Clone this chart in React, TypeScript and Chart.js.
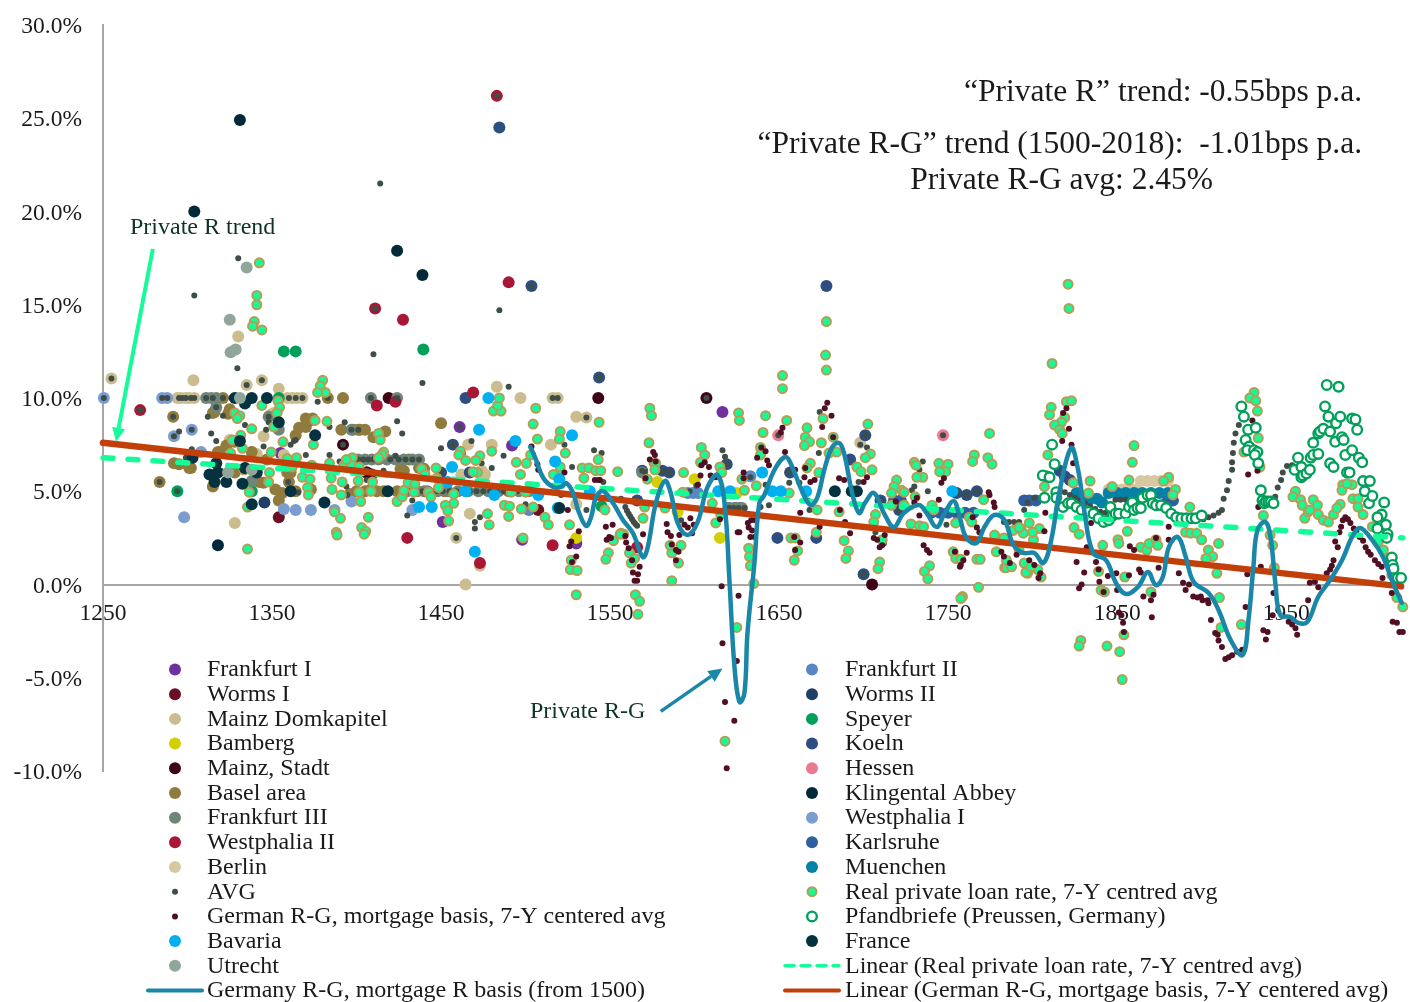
import React, { useEffect, useRef } from "react";
import { Chart, registerables } from "chart.js";

Chart.register(...registerables);

type P = [number, number];

const FONT = '"Liberation Serif", serif';

const yearTicks = { min: 1250, max: 2019 };
const yearLabels = [1250, 1350, 1450, 1550, 1650, 1750, 1850, 1950];
const rateTicks = { min: -10, max: 30, step: 5 };

const frankfurtI: P[] = [[1461,8.45],[1616.5,9.25],[1492,7.45],[1451,3.35],[1498,2.4],[1355,7.05],[1530,2.2]];
const frankfurtII: P[] = [[1633,5.8],[1502,4.0],[1596,4.9],[1599,4.9],[1602,4.9]];
const wormsI: P[] = [[1354,3.6],[1406,6.0],[1409,5.9],[1507.5,4.0]];
const wormsII: P[] = [[1345.5,4.4]];
const mainzDomkapitel: P[] = [[1255,11.05],[1303.5,10.95],[1335,10.7],[1344,10.95],[1354,10.5],[1294,10],[1296,10],[1299,10],[1301,10],[1304,10],[1359,10],[1362,10],[1365,10],[1368,10],[1516,10],[1519,10],[1328,3.3],[1464.5,0],[1473,1.0],[1467,3.8],[1459,2.5],[1497,10],[1483,10.6],[1474,6.1],[1466,7.5],[1480,7.5],[1515,7.5],[1530,9],[1536,8.95],[1345,7.95],[1338,7.1],[1326,9.25],[1330,13.3],[1341,7.0],[1530,4.3],[1698,7.6],[1351,9.2],[1349,9.1],[1325,7.75],[1326,7.65],[1357,6.95],[1462,5.9],[1476,5.9],[1340,6.9]];
const speyer: P[] = [[1357,12.5],[1364,12.5],[1439.5,12.6],[1294,5],[1354,10],[1545,4.2],[1338,5]];
const bamberg: P[] = [[1615,2.5],[1530,2.5],[1600,5.65],[1578,5.5],[1625,4.9],[1590,3.9]];
const koeln: P[] = [[1484.5,24.5],[1503.5,16],[1678,16],[1543.5,11.1],[1464.5,10],[1649,2.5],[1700,0.55],[1701,8],[1672,2.5],[1457,7.5],[1450,6],[1467,6],[1569,6.1],[1581,6.1],[1585,6],[1566,4.5],[1619,6.45],[1692,6.7],[1767,5],[1761,4.8],[1755,4.9],[1710,4.5],[1721,4],[1656.5,6],[1816,6.1],[1819,5.8],[1822,5.6],[1620.5,4.1],[1624,4.1],[1627,4.1]];
const mainzStadt: P[] = [[1543,10],[1607,10],[1705,0],[1419,10],[1392,7.5],[1406,6]];
const hessen: P[] = [[1747,8],[1649.5,8]];
const baselArea: P[] = [[1283.5,5.5],[1295,6.45],[1302,6.25],[1291.5,9],[1321,10],[1383,10],[1392,10],[1401,8.3],[1450,8.65],[1370,8.45],[1374,8.9],[1316,9.25],[1319,7.1],[1315,5.25],[1364,8],[1391,8.3],[1356,4.9],[1354,4.5],[1359,6],[1347,6.7],[1328,6],[1342.5,5.5],[1398,8.3],[1405,8.3],[1412,5],[1416,5],[1400,5],[1405,5],[1360,5.5],[1352,5.1],[1373,5.1],[1397,6.7],[1431,6.7],[1366,8.4],[1370,8.9],[1373,8.8],[1364,5],[1361,6],[1345,5.45],[1323,7.45],[1328,7.65],[1318,7.1],[1338,7.1],[1301,6.25],[1292,6.5],[1402,8.3],[1417,8.2],[1413,7.9],[1410,7.9],[1315,9.2],[1325,9.4],[1324,9.15],[1437,6.25],[1440,6.2],[1426,6.2],[1428,6.1],[1396,4.85],[1408,5.05],[1424,5],[1440,5],[1452,5]];
const klingentalAbbey: P[] = [[1331,24.9],[1304,20],[1424,17.9],[1439,16.6],[1318,2.1]];
const frankfurtIII: P[] = [[1311,10],[1314,10],[1317,10],[1317,9.5],[1348,9],[1354,8.3],[1338,5.55],[1408.5,10],[1424,10],[1397,8.3],[1401,6.7],[1405,6.7],[1409,6.7],[1413,6.7],[1418,6.7],[1423,6.7],[1428,6.7],[1433,6.7],[1437,6.7],[1430,5],[1436,5],[1442,5],[1448,5],[1454,5],[1460,5],[1466,5],[1472,5],[1478,5],[1484,5],[1490,5],[1496,5],[1502,5],[1569,6],[1620,4.1],[1624,4.1],[1628,4.1]];
const westphaliaI: P[] = [[1250.5,10],[1285,10],[1288,10],[1292,7.95],[1302.5,8.3],[1298,3.6],[1308,7.1],[1357,4.05],[1364,4],[1373,4],[1387,4],[1397,4.45],[1433,4]];
const westphaliaII: P[] = [[1483,26.2],[1490,16.2],[1411,14.8],[1427.5,14.2],[1412,9.6],[1423,9.8],[1272,9.35],[1469,10.3],[1430,2.5],[1473,1.15],[1516,2.1],[1566,2]];
const karlsruhe: P[] = [[1740,3.85],[1745,3.85],[1750,3.85],[1755,3.85],[1760,3.85],[1765,3.85],[1795,4.5],[1798,4.5],[1802,4.5],[1880,4.5],[1883,4.5],[1718,4.5],[1722,4.5]];
const berlin: P[] = [[1841,4.5],[1845,5.1],[1849,5.1],[1853,5.1],[1857,5.1],[1861,5.1],[1864,5.55],[1868,5.55],[1872,5.55],[1876,5.55],[1880,5.55]];
const muenchen: P[] = [[1826,4.9],[1830,4.7],[1834,4.6],[1838,4.6],[1841,4.4],[1845,4.9],[1850,4.9],[1855,4.9],[1860,4.9],[1865,4.9],[1870,4.9],[1875,4.9],[1880,4.9]];
const avg: P[] = [[1414,21.5],[1330,17.5],[1304,15.5],[1484.5,14.7],[1410,12.35],[1329.5,11.6],[1439,10.8],[1490,10.6],[1250.5,10],[1255,11.05],[1272,9.35],[1285,10],[1288,10],[1292,7.95],[1302.5,8.3],[1283.5,5.5],[1291.5,9],[1294,5],[1295,10],[1297,10],[1299,10],[1302,10],[1304,10],[1311,10],[1315,10],[1317,9.5],[1321,10],[1326,10],[1335,10.7],[1344,10.95],[1348,9],[1354,10],[1360,10],[1364,10],[1368,10],[1383,10],[1408.5,10],[1424,10],[1397,8.3],[1401,8.3],[1483,26.2],[1503.5,16],[1411,14.8],[1543.5,11.1],[1607,10],[1516,10],[1519,10],[1536,8.95],[1461,8.45],[1457,7.5],[1450,6],[1467,6],[1459,2.5],[1392,7.5],[1619,6.45],[1747,8],[1649.5,8],[1701,8],[1700,0.55],[1672,2.8],[1569,6.1],[1585,6],[1581,6.1],[1566,4.5],
[1377,9.8],[1393,8.7],[1424,8.75],[1427,8.1],[1384,8.45],[1295,8.2],[1314,8.1],[1317,7.7],[1334,8.55],[1345,7.4],[1363,7.7],[1370,6.95],[1390,6.6],[1348,8.7],[1299,6.8],[1312,9],[1450,7.3],[1468,7.7],[1480,6.25],[1470,3.35],[1470,3],[1473,3.6],[1433,4.5],[1430,3.7],[1400,6],[1500,4.3],[1474,6.5],[1463,7.05],[1487,6.9],[1423,6.9],[1411,6.8],[1416,6.1],[1406,6.1],[1406,5.6],[1401,6.7],[1404,6.7],[1407,6.7],[1410,6.7],[1420,6.7],[1425,6.7],[1429,6.7],[1433,6.7],[1437,6.7],[1321,9.05],[1346.5,8.3],[1361,7.5],[1364,7.75],[1384,6.95],[1394,5.25],[1394.5,4.8],[1359.5,5.5],[1365.5,4.95],[1302.5,7.25],
[1431,5],[1435,5],[1439,5],[1443,5],[1447,5],[1451,5],[1455,5],[1459,5],[1463,5],[1467,5],[1471,5],[1475,5],[1479,5],[1483,5],[1487,5],[1491,5],[1495,5],[1499,5],
[1540.5,7.2],[1545,7.05],[1527.5,6.3],[1523,7.5],[1546,5.5],[1536,4],[1521,4.8],[1559,4.15],[1560,3.95],[1561,3.8],[1562,3.65],[1563,3.5],[1564,3.35],[1565,3.25],[1566,3.15],[1556.5,4.6],[1616.5,7.2],[1618,6.85],[1597,5],[1592,3.45],[1601,5.3],[1633,5.75],[1630,4.95],[1639,4.15],[1644,4.25],[1642,5.35],[1620.5,4.1],[1623,4.1],[1626,4.1],[1629.5,4.1],[1570.5,6.05],[1580,6.05],[1674,9.25],[1673.5,7.05],[1655.5,6.05],[1656,5.45],[1662,5.45],[1668,4],[1667,4.5],[1698,7.5],[1702,7.35],[1697,5.5],[1735,6.6],[1733,6.15],[1730,5.25],[1728.5,5.05],[1738,5],[1725.5,4.15],[1707,2.8],[1712,2.2],[1749,3.2],[1755,4.9],[1761,4.8],[1767,5],[1721,4],[1710,4.5],
[1783,3.35],[1786,3.35],[1789,3.35],[1792,3.35],[1795,4],[1797,4.4],[1801,4.65],[1816,5.1],[1819,4.95],[1822,4.8],[1825,4.65],[1828,4.5],[1831,4.35],[1834,4.2],[1837,4.05],[1840,3.9],[1843,3.85],[1846,4.3],[1849,4.55],[1852,4.55],[1855,4.55],[1858,4.4],[1861,4.35],[1898,3.5],[1901,3.5],[1904,3.6],[1907,3.7],[1910,3.85],[1912,4],[1913,4.6],[1915,5.05],[1916,5.55],[1918,6.15],[1918,6.55],[1918.5,7.05],[1919,7.6],[1920,8.1],[1922,8.55],[1943.5,4.7],[1945,5.2],[1947,5.6],[1948,6],[1950.5,6.35],[1953.5,6.4]];
const realPrivateLoanRate: P[] = [[1342.5,17.25],[1341,15.5],[1341,15],[1339.5,14.1],[1338.5,13.85],[1344,13.65],[1380,10.95],[1378.5,10.65],[1381.5,10.3],[1377,10.3],[1344,9.6],[1353.5,9.85],[1354.5,9.5],[1353,9.2],[1328,9.2],[1331,9.05],[1329.5,8.9],[1338,8.35],[1351,8.45],[1375.5,8.8],[1382.5,8.75],[1356.5,7.65],[1331.5,8],[1326.5,7.75],[1413,8.1],[1414,7.75],[1416,7.1],[1415,6.95],[1413,6.8],[1374.5,7.5],[1349.5,7.1],[1332.5,7.3],[1325.5,7.05],[1364.5,6.8],[1359,6.75],[1362,6.3],[1384,6.5],[1397.5,6.8],[1392.5,6.4],[1397,6.4],[1394,6.7],[1401.5,6.3],[1373.5,6.4],[1348.5,6],[1368,5.75],[1372.5,5.65],[1385,5.7],[1401,5.55],[1385.5,5.1],[1391.5,5.5],[1348,5.5],[1371,5.2],[1371.5,4.8],[1391,4.8],[1401.5,4.95],[1402.5,4.45],[1409.5,5.5],[1408.5,5],[1424,4.45],[1427,4.7],[1428,5.05],[1430.5,5.45],[1434.5,5.4],[1434,4.95],[1438.5,6.2],[1440.5,5.9],[1447,6.25],[1447.5,5.7],[1442.5,4.95],[1444,4.7],[1448.5,5.2],[1457.5,4.85],[1457.5,4.35],[1452.5,4.25],[1454,3.95],[1454.5,3.4],[1477.5,3.8],[1478.5,3.2],[1480,7.15],[1473,6.9],[1470.5,6.65],[1464.5,6.65],[1461.5,7.15],[1460.5,6.95],[1471.5,6],[1469,6.05],[1481,9.3],[1485.5,9.3],[1483.5,9.6],[1484.5,10],[1506,9.45],[1504.5,8.6],[1507,7.8],[1494.5,6.55],[1500.5,6.5],[1503,6.95],[1497,5.9],[1491.5,4.95],[1500,4.95],[1487.5,4.25],[1490.5,4.2],[1490,3.65],[1497.5,4.05],[1504.5,4.15],[1498.5,2.5],[1511.5,3.6],[1513.5,3.2],[1407,3.6],[1403,3.05],[1405.5,2.85],[1404.5,2.7],[1390.5,3.55],[1387,3.9],[1388,2.8],[1388.5,2.65],[1335.5,1.9],[1335.5,4.15],[1336.5,4.95],[1333.5,6.15],
[1520.5,8.2],[1520,7.8],[1543.5,8.7],[1523.5,7.05],[1543,6.7],[1534.5,5.7],[1533.5,6.25],[1537.5,6.25],[1541.5,6.1],[1544.5,6.1],[1554.5,6.05],[1520.5,6.05],[1516.5,5.9],[1520.5,6.3],[1573.5,9.45],[1574.5,9.05],[1573,7.6],[1626,9.2],[1626.5,8.8],[1642,9.05],[1640.5,8.15],[1604,7.35],[1606,6.95],[1603.5,6.55],[1576,6.5],[1577,6.5],[1576.5,6.15],[1593.5,6],[1615,6.3],[1616,6],[1628,5.65],[1629.5,5.05],[1636.5,5.3],[1639,7.35],[1639,6.95],[1572,5.65],[1526,3.2],[1547,4],[1549,1.7],[1547.5,1.35],[1527,1.3],[1526.5,0.8],[1530.5,0.75],[1530,-0.55],[1558,2.7],[1556.5,2.75],[1561.5,1.7],[1564.5,1.4],[1562.5,1.15],[1565,-0.55],[1567.5,-0.9],[1566.5,-1.6],[1586.5,0.2],[1586.5,1.7],[1592,2.1],[1585.5,2.1],[1590.5,1.15],[1569.5,3.55],[1552,2.35],[1556,2.7],[1570.5,4.15],[1582.5,4.1],[1612.5,3.3],[1610.5,4.35],[1632,1.95],[1632.5,1.5],[1633,1],[1635,0.05],[1593,4.95],[1615.5,3.75],
[1654.5,8.8],[1666.5,8.4],[1665.5,7.9],[1668,7.65],[1665,7.45],[1675,7.6],[1676,8.9],[1668.5,6.5],[1666.5,6.25],[1673.5,6],[1682,7.9],[1684,7.1],[1679.5,7.05],[1702.5,8.6],[1696,6.3],[1698.5,6.05],[1705,6.15],[1704,7],[1701,6.8],[1656,4.9],[1672.5,4],[1685.5,3.9],[1672,2.8],[1688.5,2.35],[1691,1.8],[1689.5,1.4],[1659,1.3],[1661,1.8],[1657,2.5],[1659.5,2.5],[1707,3.75],[1706,3.35],[1711,2.4],[1709.5,1.2],[1708.5,0.85],[1719.5,5.6],[1722.5,5.05],[1718,5.25],[1716.5,4.9],[1724,4.95],[1716.5,4.25],[1724,4.25],[1730.5,4.7],[1730,6.55],[1731,6.4],[1735,5.75],[1731.5,5.75],[1728,3.25],[1733,3.15],[1735.5,3.1],[1739,1],[1736,0.7],[1738,0.3],[1744.5,6.5],[1750,6.45],[1748.5,6.05],[1745,6.05],[1740.5,4.25],[1741.5,4],[1753,1.75],[1754.5,1.4],[1757.5,1.35],[1765.5,6.95],[1764.5,6.6],[1774.5,8.1],[1773.5,6.8],[1776,6.45],[1771,4.55],[1767,1.35],[1769,1.35],[1768,-0.15],[1758.5,-0.65],[1757.5,-0.75],[1777.5,2.65],[1783,2.5],[1788.5,2.9],[1783.5,0.9],[1784.5,0.9],[1778.5,1.75],[1754.5,3.3],[1762.5,3.6],[1764,3.35],
[1793,3],[1798,3.3],[1800.5,2.4],[1804,3],[1795,1.15],[1797,0.6],[1805,0.4],[1800,2.8],[1811,9.5],[1810,9.1],[1820,9.8],[1823,9.85],[1819,8.95],[1817,8.7],[1813,8.55],[1816,8.3],[1817.5,8.1],[1809,6.95],[1807,5.25],[1824,5.45],[1834,5.55],[1833,4.9],[1824.5,3.05],[1827.5,2.7],[1841.5,2.1],[1850.5,2.4],[1851,2.2],[1856,2.85],[1864,2],[1867.5,1.85],[1869,2.2],[1873,2.4],[1874,2.1],[1857,5.6],[1860,7.45],[1859,6.55],[1847,5.25],[1880.5,5.75],[1877.5,5.55],[1884.5,5.1],[1883,4.8],[1893,4.15],[1890.5,2.8],[1893.5,2.75],[1897,2.75],[1900,2.4],[1910,2.2],[1904,1.85],[1906.5,1.5],[1902.5,1.4],[1909,0.6],[1910.5,-0.7],[1911.5,-2.3],[1923.5,-2.15],[1828.5,-3],[1827.5,-3.3],[1844,-3.3],[1851.5,-3.6],[1853,-5.1],[1854,-2.7],[1839,0.7],[1840.5,-0.3],[1842.5,-0.4],[1854.5,0.4],[1870,-0.4],[1787.5,0.95],[1796,0.65],[1803,0.8],[1799,0.95],[1794.5,2.75],[1792,3.05],[1792,1.85],[1784.5,1.3],
[1821,16.1],[1821.5,14.8],[1811.5,11.85],[1678,14.1],[1677.5,12.3],[1678,11.5],[1652,11.2],[1652,10.5],[1625,-2.3],[1618,-8.4],
[1931,10.3],[1928.5,10],[1932,9.85],[1933,9.3],[1933.5,7.85],[1925,7.1],[1934.5,6.3],[1936.5,3.7],[1940.5,2.65],[1942,2.1],[1943,0.9],[1955.5,5],[1954,4.7],[1958.5,4.55],[1959.5,4.25],[1961,3.55],[1963,3.9],[1966,4.55],[1964,4],[1968.5,4.25],[1969,3.75],[1972,3.45],[1975,3.35],[1978,3.75],[1982,4.3],[1980,4.1],[1989,5.35],[1983.5,5.35],[1983,5.05],[1986,5.4],[1989.5,4.6],[1992.5,4.6],[1992.5,4.15],[1995.5,3.75],[2001,3.1],[2004.5,2.3],[2007.5,1.85],[2010,1.4],[2012.5,0.5],[2015.5,-0.7],[2019,-1.2]];
const germanRG: P[] = [[1503.5,7.4],[1507,6.45],[1507.5,6.15],[1523,6],[1525,4],[1527.5,1.2],[1530,1.5],[1526,2.05],[1527,2.3],[1531.5,2.85],[1551.5,3.2],[1547.5,3.1],[1541,5.6],[1543,5.6],[1544,5.6],[1549.5,2.55],[1550.5,2.5],[1548,2.4],[1559,2.6],[1559.5,2.25],[1561,1.95],[1563,1.3],[1567.5,0.95],[1563.5,0.65],[1566.5,0.55],[1564.5,0.2],[1566,0.2],[1569.5,2.7],[1575.5,7.1],[1576.5,6.95],[1573.5,6.7],[1577,6.6],[1571,5.7],[1583.5,3.25],[1584,2.8],[1586,2.6],[1586.5,2.15],[1589,1.85],[1589,1.3],[1590.5,1.75],[1594,3.2],[1597.5,3.55],[1599.5,3.2],[1596,3.05],[1598.5,2.75],[1591,2.65],[1606,6.55],[1604,6.4],[1608.5,6.3],[1603.5,5.85],[1609.5,5.85],[1602,5.35],[1612.5,5.75],[1615,3.5],[1626.5,2.8],[1616,-0.1],[1626,-0.6],[1632,3.05],[1633,2.55],[1629,6],[1639.5,7.35],[1642,7.15],[1637,6.8],[1643,6.65],[1644,6.4],[1629,5.7],[1633.5,3.45],[1635.5,2.55],[1625.5,2.8],[1634,2.9],[1631.5,3.3],[1636,3.45],[1616.5,-3.15],[1625,-4.1],[1618,-6.3],[1623.5,-7.3],[1619,-9.85],
[1678.5,9.75],[1677,9.45],[1681,9.05],[1675.5,8.45],[1682,7.9],[1652,8.4],[1651,8.15],[1653.5,7.1],[1665,5.75],[1685.5,5.7],[1688.5,5.6],[1662.5,3.85],[1689,3.35],[1692,2.75],[1674,3.1],[1659,2.55],[1662.5,2.25],[1659.5,1.85],[1735.5,2.1],[1737.5,1.85],[1739,1.7],[1708,2.4],[1709.5,2],[1730,4.4],[1731.5,4.65],[1700,5.5],[1702,5.75],[1744.5,4.55],[1747.5,5.7],[1746,5.45],[1754,1.75],[1757,0.95],[1761,1.7],[1757.5,1.05],[1759,1.3],[1659.5,6.15],[1665.5,6.25],[1668.5,5.5],[1671,5.6],[1686,4],[1711,2.1],[1712.5,2.65],[1706,2.5],[1719,4.45],[1733,3.7],[1756,3.85],[1764.5,3.6],[1767,3.05],[1768.5,2.8],[1774.5,4.8],[1777.5,4.15],[1781.5,1.75],[1783,1.5],[1786.5,1.15],[1790.5,1.6],[1774,4.95],[1777,4.4],
[1823,7.5],[1824,6.5],[1818,9.2],[1820,9.45],[1821.5,8.35],[1817.5,7.7],[1807.5,3.85],[1807,2.85],[1798,1.3],[1801,1.05],[1803.5,0.35],[1804.5,0.6],[1832,2],[1826,1.2],[1834.5,3.3],[1830.5,0.65],[1829,0],[1827.5,-0.2],[1837.5,1.2],[1839.5,0.15],[1844.5,0.45],[1849.5,0.6],[1850,-0.3],[1857,0.5],[1857.5,2.05],[1860,1.85],[1863,0.8],[1864,0.65],[1865.5,-0.65],[1870,-0.85],[1871.5,-0.55],[1873,2.5],[1874.5,0.9],[1880.5,3.1],[1880.5,2.4],[1870.5,-1.75],[1851,-1.5],[1853.5,-2.05],[1854,-2.55],[1852.5,-1.65],[1886.5,0.6],[1889,0.1],[1890.5,-0.3],[1892.5,0],[1899.5,-0.65],[1895,-0.65],[1904,-1],[1905.5,-1.9],[1908,-2.6],[1842,-0.4],[1839,0.8],[1897.5,-0.7],[1900.5,-0.85],[1903.5,-0.85],[1909.5,-2.7],[1910,-3],[1912,-3.35],[1914,-4],[1916,-3.9],[1918,-3.8],[1921,-3.6],[1924,-3.5],[1926,-1.2],[1927.5,5.9],[1933,6.1],[1930,8.8],[1936.5,-2.45],[1939,-2.55],[1938,-2.95],[1951.5,-2],[1953.5,-2.15],[1955.5,-2.35],[1956.5,-2.7],[1963,-0.85],[1964,0.1],[1967,0.15],[1969,-0.15],[1974,0.6],[1976,0.8],[1977,1],[1978,1.3],[1979,2.3],[1980.5,2],[1981.5,2.8],[1982.5,3.1],[1983.5,3.45],[1985,3.6],[1986.5,3.5],[1988,3.3],[1990,3],[1991.5,2.85],[1993.5,2.55],[1995.5,2.35],[1997,2],[1998.5,1.75],[2000,1.6],[2002.5,1.3],[2004.5,1.1],[2006.5,0.95],[2007,0.35],[2012.5,-0.45],[2013,-2],[2015.5,-2.05],[2017,-2.55],[2019,-2.55],[1933.5,4.15],[1935,0.95],[1927,0.55],[1942.5,-0.45],[1942,-1.65]];
const pfandbriefe: P[] = [[1811.5,7.5],[1813,6.45],[1808,5.8],[1806,5.85],[1810,5.75],[1807,4.65],[1814,4.95],[1814,4.65],[1818,4.15],[1821,4.35],[1823,4.35],[1826,4.15],[1829,4],[1833,3.9],[1836,3.8],[1839,3.55],[1842,3.35],[1845,3.45],[1847.5,3.7],[1846,4.15],[1849,3.8],[1851,3.8],[1855,3.8],[1857,4.15],[1859,4.4],[1860,4],[1862,4.1],[1864,4.1],[1865,4.65],[1868,4.8],[1870,4.8],[1871,4.35],[1873,4.25],[1876,4.25],[1879,4.1],[1882,3.8],[1885,3.6],[1888,3.55],[1891,3.55],[1894,3.55],[1896.5,3.55],[1900,3.7],
[1923.5,9.55],[1925,9],[1927.5,8.3],[1932,8.4],[1926,7.75],[1928,7.4],[1927,7.2],[1931,7.2],[1933,7.1],[1931.5,6.95],[1933.5,6.5],[1935,5.05],[1936,4.5],[1937,4.35],[1938,4.45],[1939.5,4.45],[1941,4.45],[1942.5,4.35],
[1955,6.15],[1957,6.8],[1959,6.3],[1959,5.75],[1960,5.85],[1962,5.95],[1964,6.15],[1964.5,6.8],[1966,6.95],[1969,7],[1966,7.6],[1969,8.1],[1970,8.2],[1972,8.35],[1976,8.2],[1973,9.55],[1974,10.7],[1981,10.6],[1975,9],[1979.5,8.65],[1982,9],[1979,7.65],[1983,7.9],[1984,7.75],[1976,6.5],[1978,6.3],[1985,6.95],[1989,7.2],[1989,8.9],[1991,8.85],[1992,8.3],[1986,6],[1987.5,6],[1993,6.8],[1995,6.55],[1995.5,5.55],[1999.5,5.55],[1996.5,5],[1999,4.35],[2001,4.75],[2008,4.4],[2006.5,3.75],[2004,3.6],[2009,3.2],[2004,3],[2010,2.7],[2009.5,2.5],[2012.5,1.45],[2013,1.05],[2013.5,0.85],[2016,0.35],[2018,0.35]];
const bavaria: P[] = [[1478,10],[1472.5,8.3],[1494,7.7],[1456.5,6.3],[1464.5,5],[1481.5,4.8],[1437,4.15],[1444.5,4.15],[1454,5.5],[1470,1.75],[1517.5,6.6],[1527.5,8],[1520,5.65],[1538,5],[1519,4.1],[1614,5],[1621,5],[1640,6],[1752.5,5],[1666,5],[1651,5],[1646,5],[1507.5,4.8]];
const utrecht: P[] = [[1335,17],[1325,14.2],[1325.5,12.45],[1328.5,12.6],[1331,10],[1324,6],[1338,6.15]];
const france: P[] = [[1338,4.3],[1361,5],[1381,4.4],[1375.5,8],[1354,8.7],[1331,7.7],[1303,6.8],[1313,5.9],[1318,6],[1316,5.5],[1323,5.5],[1317,6.5],[1332.5,5.4],[1341,6],[1334,6.25],[1328,10],[1334,9.7],[1338,10],[1347,10],[1418.5,5],[1520,4.1],[1683,5],[1693,5],[1696,5]];
const germanyLine: P[] = [[1502.8,7.37],[1505.8,6.78],[1510.5,5.71],[1516.4,5.23],[1521.1,5.23],[1524,5.44],[1528.1,4.91],[1531.1,3.99],[1535.8,3.14],[1538.8,3.62],[1541.7,4.69],[1545.8,5.01],[1551.7,4.37],[1557.6,3.46],[1563.5,2.76],[1569.4,1.47],[1572.3,2.01],[1577.1,4.37],[1582.4,5.55],[1585.9,4.91],[1590,3.3],[1595.9,2.65],[1601.8,3.35],[1607.7,5.23],[1613.6,5.87],[1617.7,4.37],[1620.7,0.08],[1623.6,-4.42],[1626.6,-6.3],[1629.5,-5.82],[1631.3,-2.6],[1635.4,1.15],[1638.3,4.37],[1641.3,4.8],[1647.2,6.14],[1653.7,6.84],[1657.8,6.3],[1662.5,5.23],[1668.4,4.26],[1672.5,4.64],[1676.7,6.14],[1681.4,7.37],[1685.5,7.59],[1688.4,7.05],[1693.2,4.91],[1697.3,3.83],[1700.8,4.37],[1706.1,4.91],[1712,3.83],[1717.9,3.08],[1723.8,3.83],[1732.6,4.26],[1737.3,3.83],[1743.2,3.08],[1748,3.83],[1753.3,4.48],[1756.8,3.62],[1760.9,2.49],[1766.8,2.22],[1771.5,3.08],[1777.4,3.73],[1783.3,3.46],[1788.6,2.12],[1794.5,1.69],[1801,1.69],[1806.3,1.15],[1811,2.39],[1815.7,4.91],[1822.8,7.32],[1826.9,6.14],[1830.5,3.99],[1835.8,1.69],[1843.4,1.31],[1849.3,0.08],[1855.2,-0.51],[1862.3,-0.13],[1868.2,0.67],[1872.9,-0.03],[1877,0.4],[1880.6,2.01],[1885.9,2.55],[1890.6,1.47],[1895.3,0.13],[1904.1,-0.46],[1910,-1.37],[1917.1,-2.97],[1924.2,-3.78],[1927.7,-1.9],[1930.6,0.94],[1933,2.92],[1937.7,3.35],[1940.7,2.55],[1943.6,0.08],[1946.5,-1.64],[1952.4,-1.74],[1957.2,-2.06],[1962.5,-2.01],[1968.9,-0.67],[1976,0.24],[1983.1,1.31],[1989,2.55],[1993.7,3.03],[2000.8,2.39],[2007.3,1.47],[2012.5,0.24],[2018.4,-0.99]];
const linearReal: P[] = [[1250,6.8],[2019,2.5]];
const linearGerman: P[] = [[1250,7.6],[2018,-0.1]];

const arrowPrivateR: P[] = [[1279.5,18],[1257.7,7.65]];
const arrowPrivateRG: P[] = [[1580,-6.8],[1616.5,-4.5]];

const C = {
  frankfurtI: "#7030A0", frankfurtII: "#5B86C4", wormsI: "#6B0F24", wormsII: "#1F3F66", mainzDom: "#CBBD8F", speyer: "#00A05A",
  bamberg: "#D4CF00", koeln: "#2D4E7E", mainzStadt: "#3F0516", hessen: "#EA7A90", basel: "#8F7B3E", klingental: "#02293A",
  frankfurtIII: "#6F8577", westphaliaI: "#7A9CCF", westphaliaII: "#A91736", karlsruhe: "#2F5F9F", berlin: "#D6C9A1", muenchen: "#0580A6",
  avg: "#3F4D47", tan: "#B89B54", mint: "#14FB98", rg: "#500F22", bavaria: "#00B0F0", utrecht: "#91A69B", france: "#05323F",
  line: "#1A86A8", red: "#C23F0A", ink: "#1A1A1A", note: "#0F3326", axis: "#A6A6A6",
};

function pts(d: P[]) { return d.map(([x, y]) => ({ x, y })); }
function dot(label: string, data: P[], color: string, radius = 6) {
  return { label, data: pts(data), backgroundColor: color, borderColor: color, borderWidth: 0, pointRadius: radius, pointHoverRadius: radius, showLine: false, clip: false as const };
}
function ring(label: string, data: P[], fill: string, stroke: string, radius = 4.5, bw = 2) {
  return { label, data: pts(data), backgroundColor: fill, borderColor: stroke, borderWidth: bw, pointRadius: radius, pointHoverRadius: radius, showLine: false, clip: false as const };
}
function curve(label: string, data: P[], color: string, width: number, dash: number[] = [], tension = 0) {
  return { label, data: pts(data), borderColor: color, backgroundColor: color, borderWidth: width, borderDash: dash, borderCapStyle: "round", pointRadius: 0, showLine: true, tension, clip: false as const };
}

const leftLegend = ["Frankfurt I","Worms I","Mainz Domkapitel","Bamberg","Mainz, Stadt","Basel area","Frankfurt III","Westphalia II","Berlin","AVG","German R-G, mortgage basis, 7-Y centered avg","Bavaria","Utrecht","Germany R-G, mortgage R basis (from 1500)"];
const rightLegend = ["Frankfurt II","Worms II","Speyer","Koeln","Hessen","Klingental Abbey","Westphalia I","Karlsruhe","Muenchen","Real private loan rate, 7-Y centred avg","Pfandbriefe (Preussen, Germany)","France","Linear (Real private loan rate, 7-Y centred avg)","Linear (German R-G, mortgage basis, 7-Y centered avg)"];

const overlay = {
  id: "overlay",
  afterDraw(chart: any) {
    const { ctx, scales } = chart;
    const byLabel: Record<string, any> = {};
    chart.data.datasets.forEach((d: any) => { byLabel[d.label] = d; });
    ctx.save();
    ctx.textBaseline = "middle";

    const arrow = (a: P[], color: string, width: number) => {
      const x0 = scales.x.getPixelForValue(a[0][0]), y0 = scales.y.getPixelForValue(a[0][1]);
      const x1 = scales.x.getPixelForValue(a[1][0]), y1 = scales.y.getPixelForValue(a[1][1]);
      const ang = Math.atan2(y1 - y0, x1 - x0), L = 14, W = 6.5;
      const bx = x1 - L * Math.cos(ang), by = y1 - L * Math.sin(ang);
      ctx.strokeStyle = color; ctx.fillStyle = color; ctx.lineWidth = width; ctx.lineCap = "butt";
      ctx.beginPath(); ctx.moveTo(x0, y0); ctx.lineTo(bx, by); ctx.stroke();
      ctx.beginPath(); ctx.moveTo(x1, y1);
      ctx.lineTo(bx - W * Math.sin(ang), by + W * Math.cos(ang));
      ctx.lineTo(bx + W * Math.sin(ang), by - W * Math.cos(ang));
      ctx.closePath(); ctx.fill();
    };
    arrow(arrowPrivateR, C.mint, 4);
    arrow(arrowPrivateRG, C.line, 3.5);

    const text = (t: string, x: number, y: number, size: number, align: CanvasTextAlign, color: string) => {
      ctx.font = `${size}px ${FONT}`; ctx.textAlign = align; ctx.fillStyle = color; ctx.fillText(t, x, y);
    };
    text("“Private R” trend: -0.55bps p.a.", 1362, 93, 31.5, "right", C.ink);
    text("“Private R-G” trend (1500-2018):  -1.01bps p.a.", 1362, 145, 31.5, "right", C.ink);
    text("Private R-G avg: 2.45%", 1213, 181, 31.5, "right", C.ink);
    text("Private R trend", 130, 228, 24, "left", C.note);
    text("Private R-G", 530, 712, 24, "left", C.note);

    const rows = (names: string[], markX: number, textX: number) => {
      names.forEach((name, i) => {
        const y = 669.5 + i * 24.69;
        const d = byLabel[name];
        if (d.showLine) {
          ctx.beginPath();
          ctx.lineWidth = d.borderDash.length ? 3.5 : 4;
          ctx.strokeStyle = d.borderColor;
          ctx.lineCap = "round";
          ctx.setLineDash(d.borderDash.length ? [9, 7] : []);
          ctx.moveTo(markX - 27, y);
          ctx.lineTo(markX + 27, y);
          ctx.stroke();
          ctx.setLineDash([]);
        } else {
          ctx.beginPath();
          ctx.arc(markX, y, d.pointRadius, 0, Math.PI * 2);
          ctx.fillStyle = d.backgroundColor;
          ctx.fill();
          if (d.borderWidth) { ctx.lineWidth = d.borderWidth; ctx.strokeStyle = d.borderColor; ctx.stroke(); }
        }
        text(name, textX, y + 0.5, 24, "left", C.ink);
      });
    };
    rows(leftLegend, 175, 207);
    rows(rightLegend, 812, 845);
    ctx.restore();
  },
};

export default function App() {
  const ref = useRef<HTMLCanvasElement>(null);
  useEffect(() => {
    const layers: any[] = [
      dot("Frankfurt I", frankfurtI, C.frankfurtI),
      dot("Frankfurt II", frankfurtII, C.frankfurtII),
      dot("Worms I", wormsI, C.wormsI),
      dot("Worms II", wormsII, C.wormsII),
      dot("Mainz Domkapitel", mainzDomkapitel, C.mainzDom),
      dot("Speyer", speyer, C.speyer),
      dot("Bamberg", bamberg, C.bamberg),
      dot("Koeln", koeln, C.koeln),
      dot("Mainz, Stadt", mainzStadt, C.mainzStadt),
      dot("Hessen", hessen, C.hessen),
      dot("Basel area", baselArea, C.basel),
      dot("Klingental Abbey", klingentalAbbey, C.klingental),
      dot("Frankfurt III", frankfurtIII, C.frankfurtIII),
      dot("Westphalia I", westphaliaI, C.westphaliaI),
      dot("Westphalia II", westphaliaII, C.westphaliaII),
      dot("Karlsruhe", karlsruhe, C.karlsruhe),
      dot("Berlin", berlin, C.berlin),
      dot("Muenchen", muenchen, C.muenchen),
      dot("AVG", avg, C.avg, 3),
      ring("Real private loan rate, 7-Y centred avg", realPrivateLoanRate, C.mint, C.tan),
      dot("German R-G, mortgage basis, 7-Y centered avg", germanRG, C.rg, 3),
      ring("Pfandbriefe (Preussen, Germany)", pfandbriefe, "#FFFFFF", C.speyer, 4.8, 2.4),
      dot("Bavaria", bavaria, C.bavaria),
      dot("France", france, C.france),
      dot("Utrecht", utrecht, C.utrecht),
      curve("Linear (Real private loan rate, 7-Y centred avg)", linearReal, C.mint, 5.5, [10, 15]),
      curve("Linear (German R-G, mortgage basis, 7-Y centered avg)", linearGerman, C.red, 6.5),
      curve("Germany R-G, mortgage R basis (from 1500)", germanyLine, C.line, 4.5, [], 0.4),
    ];
    layers.forEach((d, i) => { d.order = layers.length - i; });
    const chart = new Chart(ref.current!, {
      type: "scatter",
      data: { datasets: layers },
      options: {
        responsive: false,
        animation: false,
        devicePixelRatio: 1,
        layout: { padding: { left: 0, top: 25, right: 2, bottom: 231 } },
        plugins: { legend: { display: false }, tooltip: { enabled: false } },
        scales: {
          x: {
            type: "linear",
            position: { y: 0 },
            min: yearTicks.min,
            max: yearTicks.max,
            grid: { display: false },
            border: { display: true, color: C.axis, width: 2 },
            afterBuildTicks: (s: any) => { s.ticks = yearLabels.map((value) => ({ value })); },
            afterFit: (s: any) => { s.height = 0; },
            ticks: {
              autoSkip: false,
              maxRotation: 0,
              padding: 7,
              color: C.ink,
              font: { family: FONT, size: 23.5 },
              callback: (v: any) => String(v),
            },
          },
          y: {
            type: "linear",
            min: rateTicks.min,
            max: rateTicks.max,
            grid: { display: false, drawTicks: true, tickLength: 21 },
            border: { display: true, color: C.axis, width: 2 },
            afterFit: (s: any) => { s.width = 103; },
            ticks: {
              stepSize: rateTicks.step,
              padding: 0,
              labelOffset: 2,
              color: C.ink,
              font: { family: FONT, size: 23.5 },
              callback: (v: any) => Number(v).toFixed(1) + "%",
            },
          },
        },
      } as any,
      plugins: [overlay],
    });
    return () => chart.destroy();
  }, []);
  return (
    <div style={{ position: "absolute", left: 0, top: 0, width: 1410, height: 1002 }}>
      <canvas ref={ref} width={1410} height={1002} style={{ display: "block" }} />
    </div>
  );
}
